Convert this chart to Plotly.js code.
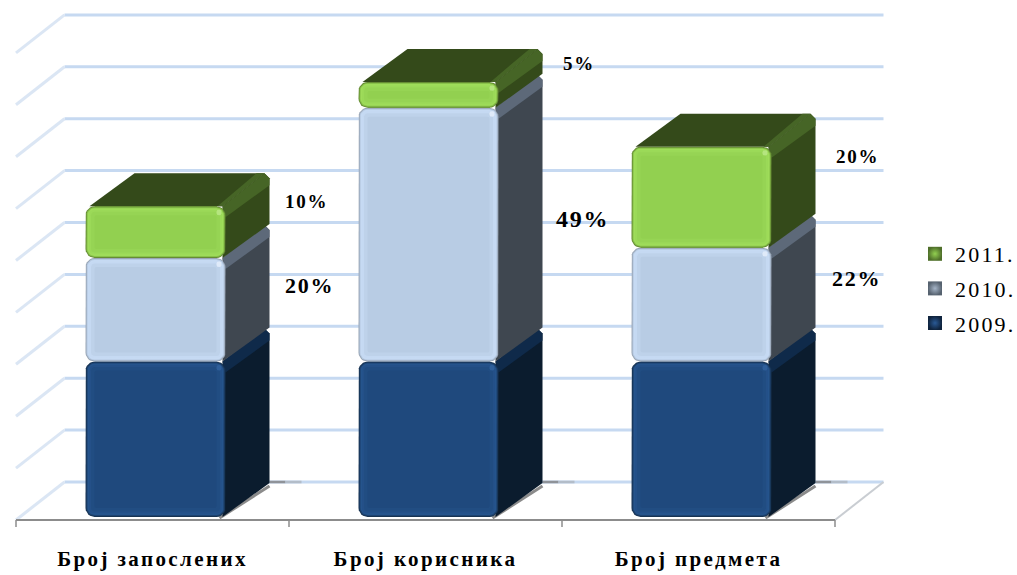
<!DOCTYPE html>
<html>
<head>
<meta charset="utf-8">
<script src="https://cdn.plot.ly/plotly-3.0.1.min.js"></script>
<style>
html,body{margin:0;padding:0;background:#fff}
.xtick text{letter-spacing:2.4px}
.legendtext{letter-spacing:2.2px}
.annotation-text{letter-spacing:1.7px}
.cartesianlayer .scatterlayer{filter:blur(.7px)}
.layer-below .shapelayer{filter:blur(.6px)}
</style>
</head>
<body>
<div id="chart" style="width:1017px;height:575px"></div>
<script>
// ---- data ----
var categories = ['Број запослених', 'Број корисника', 'Број предмета'];
var seriesNames = ['2009.', '2010.', '2011.'];
var values2009 = [30, 30, 30];
var values2010 = [20, 49, 22];
var values2011 = [10, 5, 19.5];
var labels2010 = ['20%', '49%', '22%'];
var labels2011 = ['10%', '5%', '20%'];
var gridValues = [0, 10, 20, 30, 40, 50, 60, 70, 80, 90];

// ---- style configuration (pixels per axis unit, colours) ----
var W = 1017, H = 575, plotW = 890, plotH = 535;
var SX = 273, SY = 5.18;                 // px per category, px per value unit
var PX = function (p) { return p / SX; };
var PY = function (p) { return p / SY; };
var xRange = [-0.5 - 16 / SX, -0.5 + (plotW - 16) / SX];
var yRange = [(517 - plotH) / SY, 517 / SY];
var barShift = 3, barHalf = 70, depthX = 44, depthY = 33, R = 9;
var wallX = 48.5, wallY = PY(38), floorFront = PY(-3), backFloor = PY(35);

var ringInsets = [0, 1, 2, 3.5, 5.5, 9];
var styles = [
  { rings: ['#173352', '#1e4371', '#25548c', '#245088', '#214d82', '#1f497d'], side: '#0b1c2e', band: '#0f2a4a', spot: '#2f5f9a', swatch: '#2a5a96', swatchEdge: '#10243e' },
  { rings: ['#98a5b5', '#b6c9e1', '#c6daf3', '#c5d9f2', '#bed2ea', '#b8cce4'], side: '#3f4750', band: '#5d6979', spot: '#dfeaf9', swatch: '#a4b3c6', swatchEdge: '#56626f' },
  { rings: ['#668c34', '#88c24a', '#9fdc5a', '#9bd958', '#96d454', '#92d050'], side: '#344a1a', band: '#466526', spot: '#b5e57f', swatch: '#92d050', swatchEdge: '#4f6f2a' }
];
var labelNudge = {
  s2010: [[156.5, 24, 22], [156.5, 16, 24], [157.5, 26, 22]],
  s2011: [[153.5, 31, 19], [153.5, 31, 19], [158.5, 41, 19]]
};

var seriesValues = [values2009, values2010, values2011];

function roundedRect(x0, x1, y0, y1, r) {
  var xs = [], ys = [];
  var w = (x1 - x0) * SX, h = (y1 - y0) * SY;
  var rr = Math.min(r, w / 2, h / 2);
  var corners = [
    [x1 - PX(rr), y1 - PY(rr), 90],
    [x1 - PX(rr), y0 + PY(rr), 0],
    [x0 + PX(rr), y0 + PY(rr), 270],
    [x0 + PX(rr), y1 - PY(rr), 180]
  ];
  corners.forEach(function (c) {
    for (var i = 0; i <= 6; i++) {
      var a = (c[2] - 15 * i) * Math.PI / 180;
      xs.push(c[0] + PX(rr) * Math.cos(a));
      ys.push(c[1] + PY(rr) * Math.sin(a));
    }
  });
  return { x: xs, y: ys };
}
function poly(xs, ys, color) {
  return { type: 'scatter', mode: 'lines', x: xs.concat([xs[0]]), y: ys.concat([ys[0]]), fill: 'toself',
    fillcolor: color, line: { width: 0, color: color }, hoverinfo: 'skip', showlegend: false, cliponaxis: false };
}

var traces = [];
// stacked bars: real front faces, inset by the corner radius so the rounded faces cover them
seriesValues.forEach(function (vals, s) {
  traces.push({
    type: 'bar', name: seriesNames[s], x: [0, 1, 2], y: vals,
    width: PX(2 * (barHalf - R)), offset: PX(barShift - barHalf + R),
    marker: { color: styles[s].rings[5], line: { width: 0 } }, showlegend: false, hoverinfo: 'skip'
  });
});

// 3D sides, tops and bevels derived from the values
categories.forEach(function (_, c) {
  var xL = c + PX(barShift - barHalf), xR = c + PX(barShift + barHalf);
  var dx = PX(depthX), dy = PY(depthY);
  var level = 0;
  traces.push({ type: 'scatter', mode: 'lines', x: [xR - PX(6), xR + dx], y: [PY(-1), dy - PY(2)], line: { color: '#8b8b8b', width: 3 }, hoverinfo: 'skip', showlegend: false, cliponaxis: false });
  seriesValues.forEach(function (vals, s) {
    var y0 = level, y1 = level + vals[c], st = styles[s];
    // side face
    traces.push(poly([xR - PX(3), xR + dx - PX(5), xR + dx, xR + dx, xR - PX(3)],
                     [y1, y1 + dy, y1 + dy - PY(5), y0 + dy + PY(1), y0], st.side));
    // lit band along the top of the side face
    traces.push(poly([xR - PX(3), xR + dx - PX(5), xR + dx, xR + dx, xR],
                     [y1, y1 + dy, y1 + dy - PY(5), y1 + dy - PY(12), y1 - PY(11)], st.band));
    if (s === seriesValues.length - 1) {
      // top face and its lit right edge
      traces.push(poly([xL + PX(4), xL + dx + PX(5), xR + dx - PX(5), xR - PX(3)],
                       [y1, y1 + dy, y1 + dy, y1], st.side));
      traces.push(poly([xR - PX(8), xR + dx - PX(13), xR + dx - PX(5), xR - PX(3)],
                       [y1, y1 + dy, y1 + dy, y1], st.band));
    }
    level = y1;
  });
  level = 0;
  seriesValues.forEach(function (vals, s) {
    var y0 = level, y1 = level + vals[c], st = styles[s];
    ringInsets.forEach(function (ins, k) {
      var rc = roundedRect(xL + PX(ins), xR - PX(ins), y0 + PY(ins), y1 - PY(ins), Math.max(R - ins, 2));
      traces.push(poly(rc.x, rc.y, st.rings[k]));
    });
    var sp = roundedRect(xR - PX(9), xR - PX(4), y1 - PY(9), y1 - PY(3.5), 2);
    traces.push(poly(sp.x, sp.y, st.spot));
    level = y1;
  });
});

// legend entries, listed newest first
seriesNames.slice().reverse().forEach(function (n) {
  var s = seriesNames.indexOf(n);
  traces.push({
    type: 'scatter', mode: 'markers', name: n, x: [null], y: [null], legendgroup: 'g' + s,
    marker: { symbol: 'square', size: 14, color: styles[s].swatchEdge,
      gradient: { type: 'radial', color: styles[s].swatch }, line: { width: 0 } },
    hoverinfo: 'skip'
  });
});

// back wall, left wall, floor, axis line and ticks
var shapes = [];
var wallColor = '#c6d9f1';
gridValues.forEach(function (g) {
  var yb = backFloor + g * (5.19 / SY);
  shapes.push({ type: 'line', layer: 'below', xref: 'x', yref: 'y', x0: -0.5 + PX(wallX), x1: 2.5 + PX(wallX), y0: yb, y1: yb,
    line: { color: wallColor, width: 3 } });
  shapes.push({ type: 'line', layer: 'below', xref: 'x', yref: 'y', x0: -0.5, x1: -0.5 + PX(wallX), y0: yb - wallY, y1: yb,
    line: { color: '#dbe6f4', width: 3 } });
});
shapes.push({ type: 'line', layer: 'below', xref: 'x', yref: 'y', x0: 2.5, x1: 2.5 + PX(wallX), y0: floorFront, y1: backFloor,
  line: { color: '#c9cdd2', width: 2 } });
categories.forEach(function (_, c) {
  var xs = c + PX(barShift + barHalf + depthX);
  shapes.push({ type: 'line', layer: 'below', xref: 'x', yref: 'y', x0: xs, x1: xs + PX(16), y0: backFloor, y1: backFloor,
    line: { color: '#8f9399', width: 2.6 } });
  shapes.push({ type: 'line', layer: 'below', xref: 'x', yref: 'y', x0: xs + PX(16), x1: xs + PX(32), y0: backFloor, y1: backFloor,
    line: { color: '#b3bdc9', width: 2.6 } });
});
shapes.push({ type: 'line', xref: 'x', yref: 'y', x0: -0.5, x1: 2.5, y0: floorFront, y1: floorFront, line: { color: '#8c8c8c', width: 2 } });
[-0.5, 0.5, 1.5, 2.5].forEach(function (b) {
  shapes.push({ type: 'line', xref: 'x', yref: 'y', x0: b, x1: b, y0: floorFront, y1: floorFront - PY(7), line: { color: '#8c8c8c', width: 1.5 } });
});

// data labels
var annotations = [];
function addLabels(texts, nudges, seriesIdx) {
  texts.forEach(function (t, c) {
    var base = 0;
    for (var s = 0; s < seriesIdx; s++) base += seriesValues[s][c];
    annotations.push({
      xref: 'x', yref: 'y', x: c + PX(nudges[c][0]), y: base + seriesValues[seriesIdx][c] / 2 + PY(nudges[c][1]),
      text: '<b>' + t + '</b>', showarrow: false, xanchor: 'center', yanchor: 'middle',
      font: { family: 'Liberation Serif', size: nudges[c][2], color: '#000' }
    });
  });
}
addLabels(labels2010, labelNudge.s2010, 1);
addLabels(labels2011, labelNudge.s2011, 2);

var layout = {
  width: W, height: H,
  margin: { l: 0, r: W - plotW, t: 0, b: H - plotH, pad: 0, autoexpand: false },
  paper_bgcolor: '#fff', plot_bgcolor: 'rgba(0,0,0,0)',
  barmode: 'stack', showlegend: true,
  xaxis: { type: 'linear', range: xRange, tickmode: 'array', tickvals: [0, 1, 2], ticktext: categories.map(function (c) { return '<b>' + c + '</b>'; }),
    showgrid: false, zeroline: false, showline: false, ticks: 'outside', ticklen: 5, tickcolor: 'rgba(0,0,0,0)',
    tickfont: { family: 'Liberation Serif', size: 21, color: '#000' } },
  yaxis: { range: yRange, visible: false, showgrid: false, zeroline: false },
  legend: { x: 915 / plotW, xanchor: 'left', y: 1 - 233 / plotH, yanchor: 'top', traceorder: 'grouped', tracegroupgap: 3,
    font: { family: 'Liberation Serif', size: 22, color: '#000' }, bgcolor: 'rgba(0,0,0,0)', borderwidth: 0, itemclick: false, itemdoubleclick: false },
  shapes: shapes, annotations: annotations, hovermode: false
};
Plotly.newPlot('chart', traces, layout, { displayModeBar: false, staticPlot: true });
</script>
</body>
</html>
